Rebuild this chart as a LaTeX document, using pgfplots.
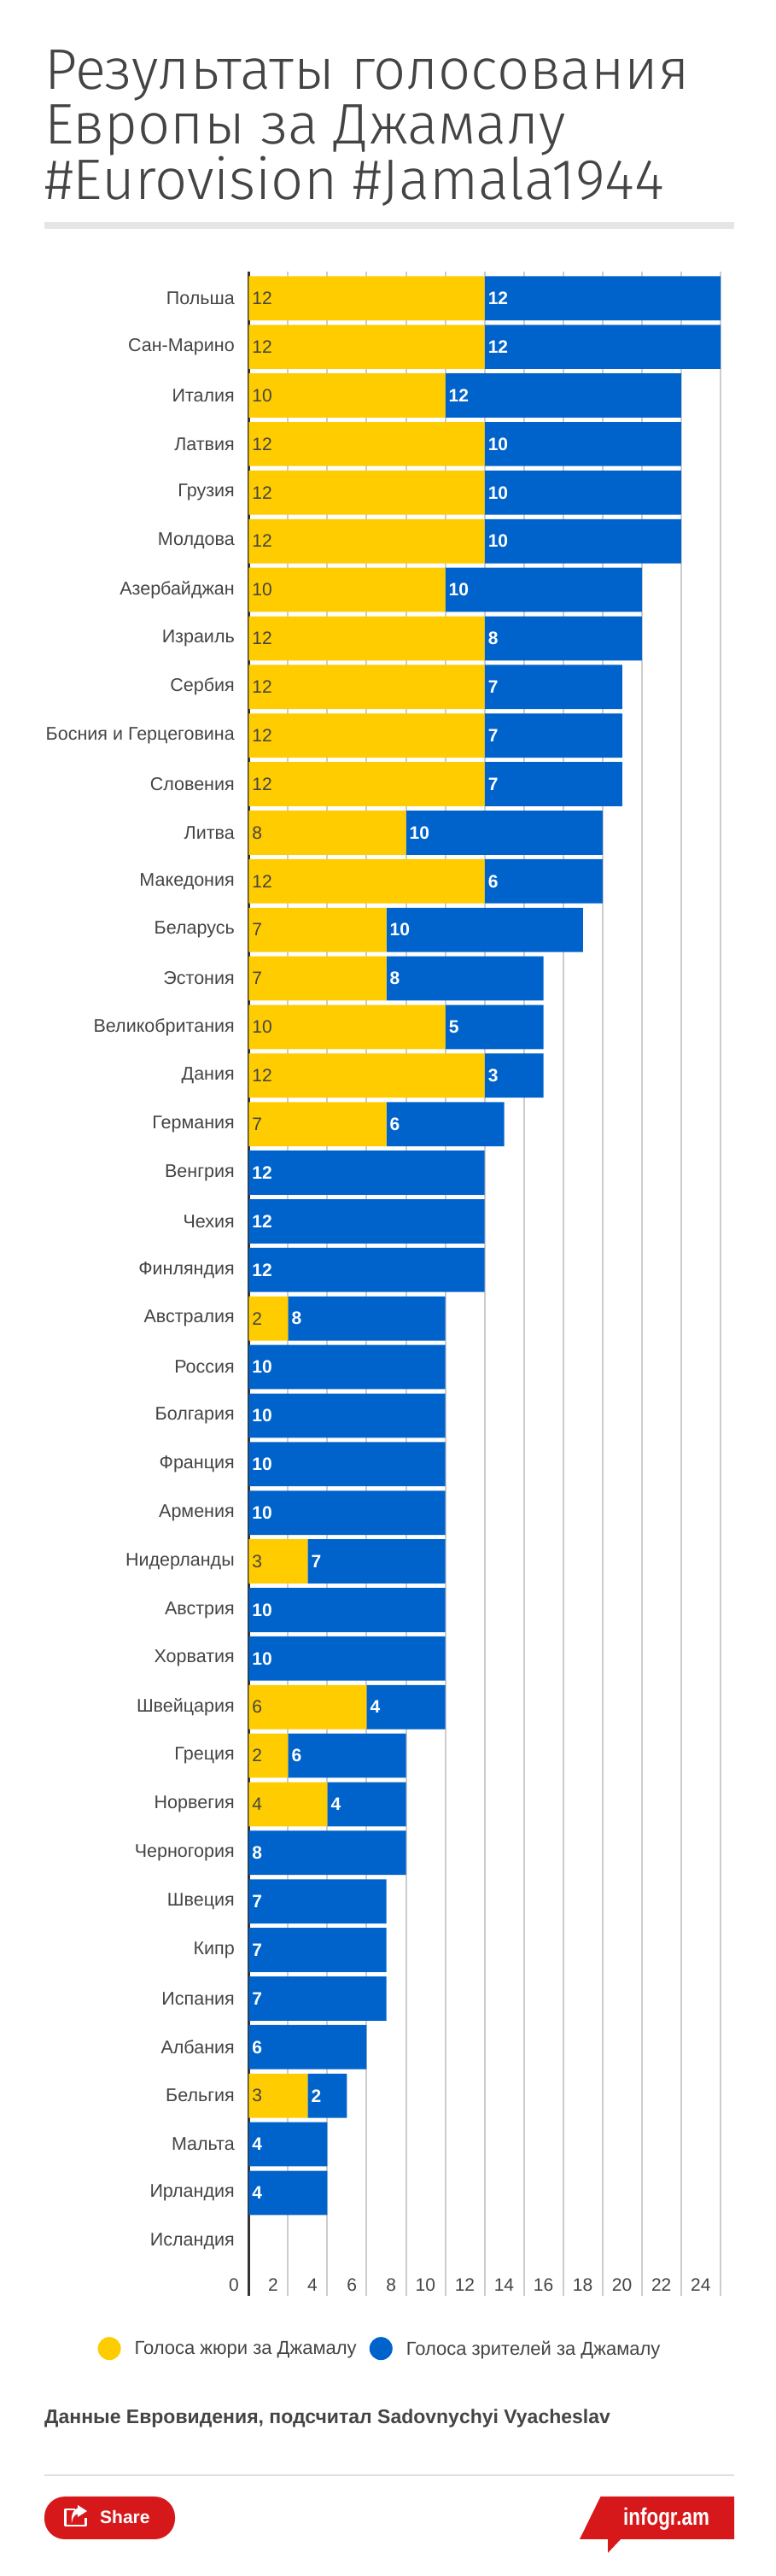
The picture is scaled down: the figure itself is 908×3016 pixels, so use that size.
\documentclass[border=0pt]{standalone}
\usepackage{fontspec}
\usepackage{pgfplots}
\usepackage{pgfplotstable}
\pgfplotsset{compat=1.18}
\setmainfont{Liberation Sans}
\newfontfamily\titlefont{Fira Sans Light}
\newfontfamily\logofont[FakeStretch=0.8]{Liberation Sans}
\definecolor{jury}{HTML}{FFCC00}
\definecolor{viewers}{HTML}{0063CC}
\definecolor{ink}{HTML}{444444}
\definecolor{brandred}{HTML}{D7181B}

% jury and audience points, in the order of the chart
\pgfplotstableread[col sep=comma]{
idx,jury,viewers
0,12,12
1,12,12
2,10,12
3,12,10
4,12,10
5,12,10
6,10,10
7,12,8
8,12,7
9,12,7
10,12,7
11,8,10
12,12,6
13,7,10
14,7,8
15,10,5
16,12,3
17,7,6
18,0,12
19,0,12
20,0,12
21,2,8
22,0,10
23,0,10
24,0,10
25,0,10
26,3,7
27,0,10
28,0,10
29,6,4
30,2,6
31,4,4
32,0,8
33,0,7
34,0,7
35,0,7
36,0,6
37,3,2
38,0,4
39,0,4
40,0,0
}\votes

\begin{document}
\begin{tikzpicture}[x=1pt,y=1pt]
\path[use as bounding box] (0,0) rectangle (908,3016);

% heading, y counted from the bottom of the page
\node[anchor=base west,inner sep=0pt,text=ink,font=\titlefont\fontsize{67}{67}\selectfont] at (52,2911) {Результаты голосования};
\node[anchor=base west,inner sep=0pt,text=ink,font=\titlefont\fontsize{67}{67}\selectfont] at (52,2847) {Европы за Джамалу};
\node[anchor=base west,inner sep=0pt,text=ink,font=\titlefont\fontsize{67}{67}\selectfont] at (52,2782) {\#Eurovision \#Jamala1944};
\fill[black!10] (52,2747.5) rectangle (860,2756);

\begin{axis}[
    at={(291.3pt,328pt)},
    anchor=south west,
    scale only axis,
    clip=false,
    width=552.7pt,
    height=2370pt,
    xbar stacked,
    bar width=51.7pt,
    y dir=reverse,
    xmin=0, xmax=24,
    ymin=-0.55, ymax=41.12,
    xtick={0,2,...,24},
    ytick={0,...,40},
    yticklabels={Польша,Сан-Марино,Италия,Латвия,Грузия,Молдова,Азербайджан,Израиль,Сербия,Босния и Герцеговина,Словения,Литва,Македония,Беларусь,Эстония,Великобритания,Дания,Германия,Венгрия,Чехия,Финляндия,Австралия,Россия,Болгария,Франция,Армения,Нидерланды,Австрия,Хорватия,Швейцария,Греция,Норвегия,Черногория,Швеция,Кипр,Испания,Албания,Бельгия,Мальта,Ирландия,Исландия},
    xmajorgrids,
    grid style={black!20,line width=2pt},
    major tick length=0pt,
    axis x line*=bottom,
    axis y line*=left,
    x axis line style={draw=none,-},
    y axis line style={draw=none,-},
    /pgf/number format/assume math mode=true,
    yticklabel style={font=\fontsize{21.5}{21.5}\selectfont,text=ink,anchor=east,xshift=-13pt},
    xticklabel style={font=\fontsize{21}{21}\selectfont,text=ink,anchor=base east,xshift=-8pt,yshift=6pt},
    nodes near coords={\ifdim\rawx pt=0pt \else\pgfmathprintnumber{\rawx}\fi},
    every node near coord/.append style={anchor=west,inner xsep=0pt,xshift=-\rawx*11.52pt+4pt,font=\fontsize{21}{21}\selectfont},
    legend cell align=left,
    legend columns=2,
    legend image code/.code={\fill[#1] (0pt,0pt) ellipse (13.5pt and 13.5pt);},
    legend style={draw=none,fill=none,at={(axis description cs:-0.3255,-0.0194)},anchor=north west,font=\fontsize{22}{24}\selectfont,text=ink,/tikz/every odd column/.append style={column sep=14pt},/tikz/every even column/.append style={column sep=13pt}},
]
\addplot[fill=jury,draw=none,visualization depends on=\thisrow{jury} \as \rawx,nodes near coords style={text=ink}] table[x=jury,y=idx,col sep=comma] {\votes};
\addlegendentry{Голоса жюри за Джамалу}
\addplot[fill=viewers,draw=none,visualization depends on=\thisrow{viewers} \as \rawx,nodes near coords style={text=white,font=\fontsize{21}{21}\selectfont\bfseries}] table[x=viewers,y=idx,col sep=comma] {\votes};
\addlegendentry{Голоса зрителей за Джамалу}
% the zero line sits over the bars
\draw[black!80,line width=2.5pt] (axis cs:0,-0.55) -- (axis cs:0,41.12);
\end{axis}

% footer
\node[anchor=base west,inner sep=0pt,text=ink,font=\fontsize{23}{23}\selectfont\bfseries] at (52,178) {Данные Евровидения, подсчитал Sadovnychyi Vyacheslav};
\fill[black!12] (52,117) rectangle (860,119);
\fill[brandred,rounded corners=24pt] (52,43) rectangle (205,93);
\draw[white,line width=2.5pt,line join=round] (88,78) -- (76.5,78) -- (76.5,59) -- (100.5,59) -- (100.5,68);
\fill[white] (91,83) -- (102,76) -- (91,69) -- (91,72.5) .. controls (87,72) and (85,68) .. (84,62) .. controls (83,72) and (86,78) .. (91,79.5) -- cycle;
\node[anchor=base west,inner sep=0pt,text=white,font=\fontsize{21}{21}\selectfont\bfseries] at (117,61) {Share};
\fill[brandred] (703.5,93) -- (860,93) -- (860,43) -- (727,43) -- (712,27) -- (712,43) -- (679,43) -- cycle;
\node[anchor=base west,inner sep=0pt,text=white,font=\logofont\fontsize{28}{28}\selectfont\bfseries] at (730,59) {infogr.am};
\end{tikzpicture}
\end{document}
